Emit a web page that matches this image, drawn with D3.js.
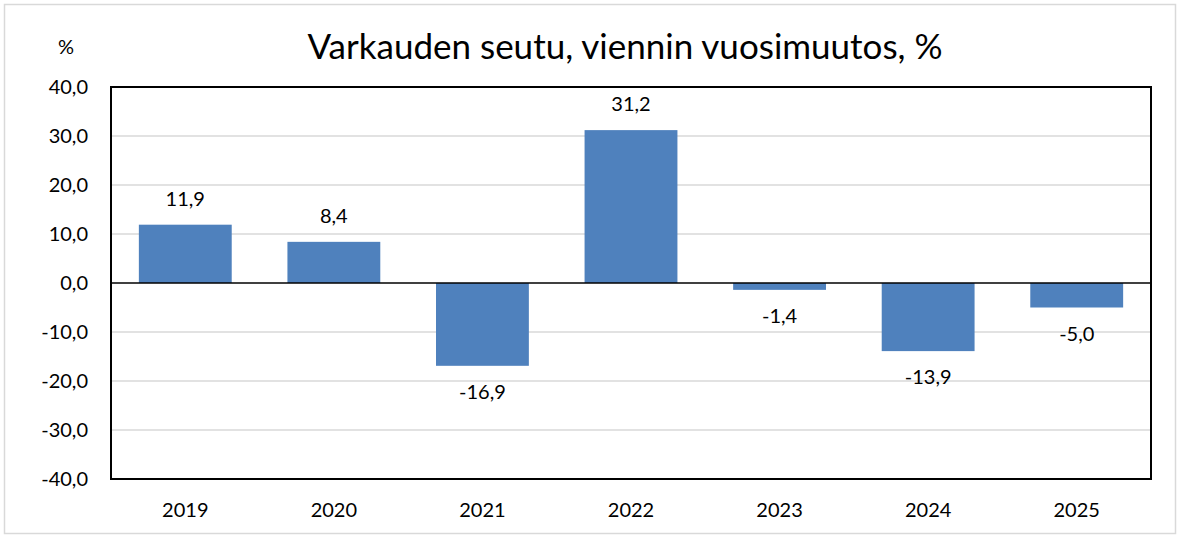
<!DOCTYPE html>
<html>
<head>
<meta charset="utf-8">
<script src="https://cdn.jsdelivr.net/npm/d3@7"></script>
<style>
  body { margin: 0; background: #fff; }
  svg { display: block; font-family: Lato, "Open Sans", sans-serif; }
</style>
</head>
<body>
<svg id="chart" width="1180" height="538"></svg>
<script>
// data
const years = ['2019', '2020', '2021', '2022', '2023', '2024', '2025'];
const changes = [11.9, 8.4, -16.9, 31.2, -1.4, -13.9, -5.0];
const yTicks = [-40, -30, -20, -10, 0, 10, 20, 30, 40];

const svg = d3.select('#chart');
const W = 1180, H = 538;
const plot = { left: 111, top: 87, right: 1151, bottom: 479 };

const fmt = v => v.toFixed(1).replace('.', ',');

// outer frame
svg.append('rect')
    .attr('x', 4.5).attr('y', 4.5)
    .attr('width', W - 9).attr('height', H - 9)
    .attr('fill', '#fff')
    .attr('stroke', '#d9d9d9')
    .attr('stroke-width', 1.5);

const x = d3.scaleBand()
    .domain(years)
    .range([plot.left, plot.right])
    .paddingInner(0.375)
    .paddingOuter(0.1875);

const y = d3.scaleLinear()
    .domain([-40, 40])
    .range([plot.bottom, plot.top]);

// gridlines
svg.append('g')
    .selectAll('line')
    .data(yTicks.filter(t => t !== 0 && t !== 40 && t !== -40))
    .join('line')
    .attr('x1', plot.left).attr('x2', plot.right)
    .attr('y1', d => y(d)).attr('y2', d => y(d))
    .attr('stroke', '#d9d9d9')
    .attr('stroke-width', 1.5);

// bars
svg.append('g')
    .selectAll('rect')
    .data(changes)
    .join('rect')
    .attr('x', (d, i) => x(years[i]))
    .attr('width', x.bandwidth())
    .attr('y', d => y(Math.max(0, d)))
    .attr('height', d => Math.abs(y(d) - y(0)))
    .attr('fill', '#4f81bd');

// zero line
svg.append('line')
    .attr('x1', plot.left).attr('x2', plot.right)
    .attr('y1', y(0)).attr('y2', y(0))
    .attr('stroke', '#000')
    .attr('stroke-width', 1.5);

// plot border
svg.append('rect')
    .attr('x', plot.left).attr('y', plot.top)
    .attr('width', plot.right - plot.left)
    .attr('height', plot.bottom - plot.top)
    .attr('fill', 'none')
    .attr('stroke', '#000')
    .attr('stroke-width', 2);

// value labels
svg.append('g')
    .selectAll('text')
    .data(changes)
    .join('text')
    .attr('x', (d, i) => x(years[i]) + x.bandwidth() / 2)
    .attr('y', d => d >= 0 ? y(d) - 26 : y(d) + 26)
    .attr('dy', '0.35em')
    .attr('text-anchor', 'middle')
    .attr('font-size', 20)
    .attr('fill', '#000')
    .text(d => fmt(d));

// y axis labels
svg.append('g')
    .selectAll('text')
    .data(yTicks)
    .join('text')
    .attr('x', 88)
    .attr('y', d => y(d))
    .attr('dy', '0.35em')
    .attr('text-anchor', 'end')
    .attr('font-size', 20)
    .text(d => fmt(d));

// x axis labels
svg.append('g')
    .selectAll('text')
    .data(years)
    .join('text')
    .attr('x', d => x(d) + x.bandwidth() / 2)
    .attr('y', 510)
    .attr('dy', '0.35em')
    .attr('text-anchor', 'middle')
    .attr('font-size', 20)
    .text(d => d);

// unit and title
svg.append('text')
    .attr('x', 66).attr('y', 47)
    .attr('dy', '0.35em')
    .attr('text-anchor', 'middle')
    .attr('font-size', 20)
    .text('%');

svg.append('text')
    .attr('x', 625).attr('y', 47)
    .attr('dy', '0.35em')
    .attr('text-anchor', 'middle')
    .attr('font-size', 35)
    .text('Varkauden seutu, viennin vuosimuutos, %');
</script>
</body>
</html>
